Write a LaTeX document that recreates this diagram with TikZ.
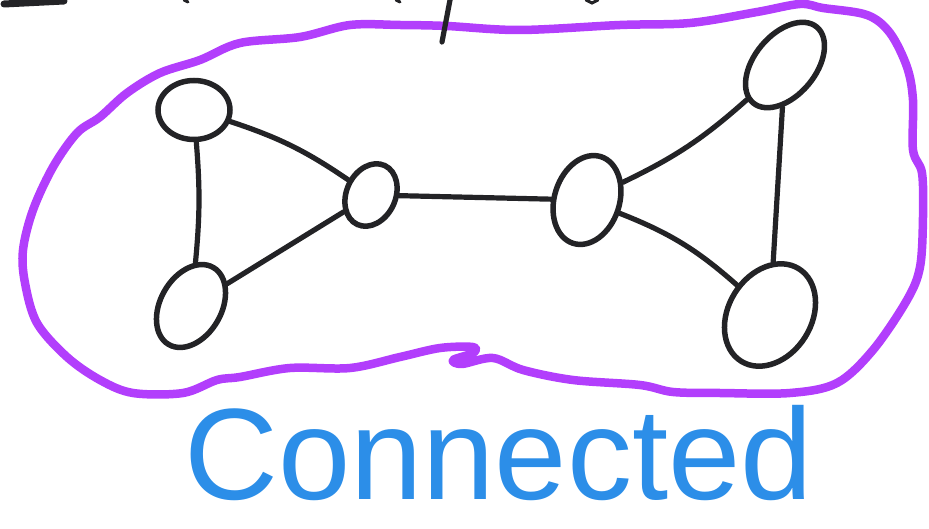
\documentclass[tikz,border=0pt]{standalone}
\usepackage{fontspec}
\setmainfont{Liberation Sans}
\usetikzlibrary{shapes.geometric}
\definecolor{hullpurple}{RGB}{178,62,252}
\definecolor{penblue}{RGB}{44,142,232}
\definecolor{penblack}{RGB}{35,35,38}
\begin{document}
\begin{tikzpicture}[x=1pt,y=-1pt,
  vert/.style={ellipse, draw=penblack, line width=5.5pt, inner sep=0pt},
  edge/.style={draw=penblack, line width=5.2pt, line cap=round},
  hull/.style={draw=hullpurple, line width=8.5pt, line cap=round, line join=round},
  label/.style={text=penblue, font=\fontsize{130}{130}\selectfont, inner sep=0pt, anchor=base west}
]
\useasboundingbox (0,0) rectangle (929,529);
% hull
\draw[hull] plot[smooth cycle, tension=0.55] coordinates {
 (200,60) (240,43) (300,37) (350,25) (400,25) (447,26) (520,30) (620,25)
 (690,23) (757,12) (800,4) (823,8) (867,15) (890,33) (907,67) (913,100)
 (913,150) (922,173) (923,217) (920,267) (907,300) (873,350) (837,383)
 (790,393) (720,393) (673,392) (640,385) (573,380) (523,370) (493,358)
 (462,364) (453,360) (473,353) (473,347) (440,348) (400,357) (350,368)
 (290,368) (240,377) (217,380) (183,393) (133,393) (100,380) (67,357)
 (37,323) (25,283) (23,250) (33,210) (53,167) (77,133) (100,117)
 (127,93) (160,73)};
% vertices
\node[vert, minimum width=72pt, minimum height=59pt] (tl) at (194,110) {};
\node[vert, minimum width=89pt, minimum height=61pt, rotate=60] (bl) at (191,306) {};
\node[vert, minimum width=65pt, minimum height=49pt, rotate=65] (ml) at (371,195) {};
\node[vert, minimum width=91pt, minimum height=65pt, rotate=72] (mr) at (587,200) {};
\node[vert, minimum width=99pt, minimum height=61pt, rotate=50] (tr) at (785,65) {};
\node[vert, minimum width=109pt, minimum height=83pt, rotate=58] (br) at (770,315) {};
% edges
\draw[edge] (tl) to[bend left=5] (bl);
\draw[edge] (tl) to[bend left=8] (ml);
\draw[edge] (ml) -- (bl);
\draw[edge] (ml) -- (mr);
\draw[edge] (mr) to[bend right=8] (tr);
\draw[edge] (tr) -- (br);
\draw[edge] (mr) to[bend left=10] (br);
% cut-off strokes at the top edge
\draw[edge, line width=7pt] (4,4) -- (64,1);
\draw[edge] (450,0) -- (442,42);
\draw[edge, line width=3pt] (184,0) -- (188,2);
\draw[edge, line width=3pt] (396,0) -- (400,2);
\draw[edge, line width=3pt] (586,0) -- (592,3) -- (598,0);
% label
\node[label] (cap) at (184,499) {Connected};
\end{tikzpicture}
\end{document}
